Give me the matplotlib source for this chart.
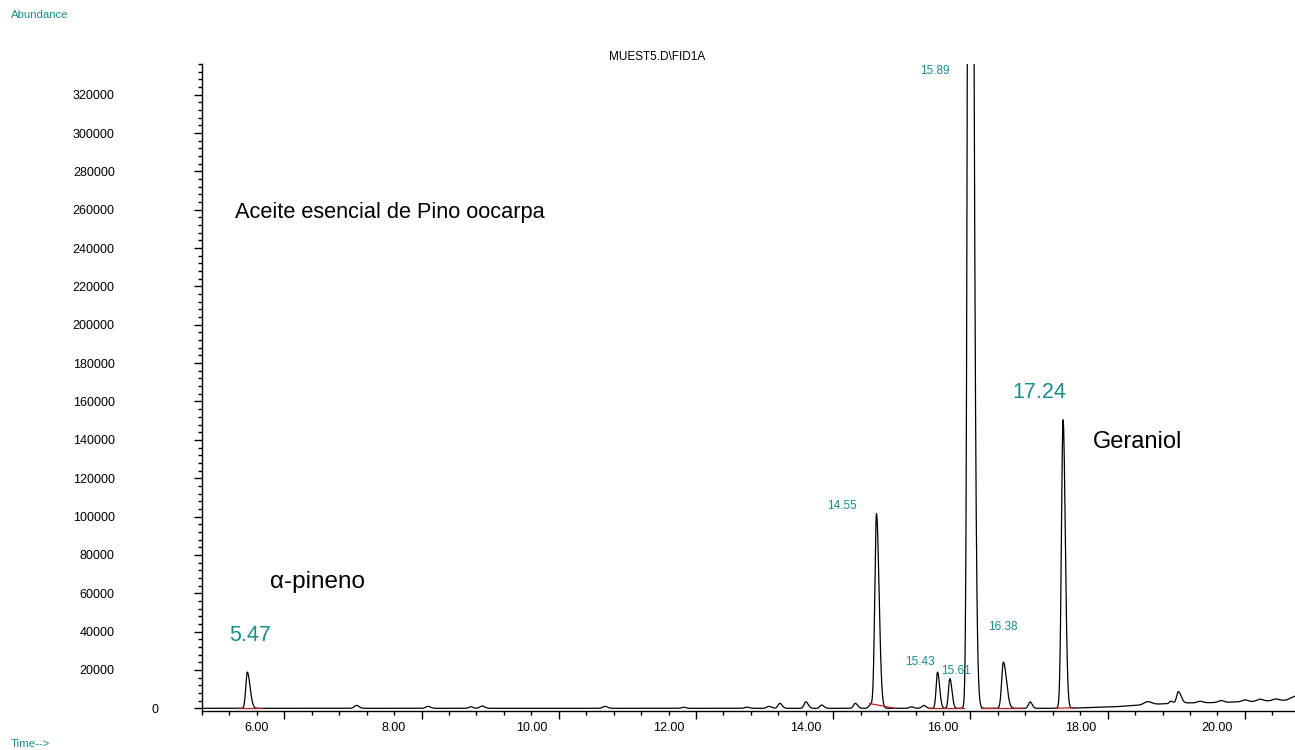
import numpy as np
import matplotlib
matplotlib.use("Agg")
import matplotlib.pyplot as plt
from matplotlib.transforms import ScaledTranslation

plt.rcParams['font.family'] = ['Liberation Sans', 'DejaVu Sans']

# Peaks: apex time (min), height, left/right width (min)
peak_times = [5.86, 7.45, 8.49, 9.12, 9.28, 11.07, 12.22, 13.14, 13.46, 13.62,
              14.00, 14.23, 14.72, 14.95, 15.03, 15.54, 15.72, 15.92, 16.10, 16.39,
              16.88, 17.27, 17.75, 18.98, 19.32, 19.43, 19.75, 20.05, 20.40, 20.62, 20.85]
peak_heights = [18900, 1500, 1000, 800, 1200, 1000, 600, 600, 1000, 2600,
                3400, 1700, 2600, 2000, 101500, 800, 1500, 18900, 15500, 900000,
                24100, 3300, 150600, 1500, 1200, 6000, 800, 1000, 900, 1000, 800]
peak_sig_left = [0.022, 0.03, 0.03, 0.03, 0.03, 0.03, 0.03, 0.03, 0.03, 0.025,
                 0.025, 0.025, 0.025, 0.03, 0.024, 0.03, 0.03, 0.02, 0.02, 0.026,
                 0.025, 0.025, 0.024, 0.05, 0.02, 0.025, 0.04, 0.04, 0.04, 0.04, 0.04]
peak_sig_right = [0.04, 0.04, 0.04, 0.03, 0.04, 0.04, 0.03, 0.04, 0.04, 0.035,
                  0.035, 0.035, 0.035, 0.03, 0.038, 0.03, 0.03, 0.03, 0.03, 0.045,
                  0.045, 0.03, 0.032, 0.06, 0.03, 0.04, 0.04, 0.04, 0.04, 0.04, 0.04]

# Slow baseline drift at the end of the run
drift_times = [5.2, 17.8, 18.5, 19.0, 19.5, 20.0, 20.5, 21.0, 21.2]
drift_levels = [0, 0, 800, 2000, 2800, 3000, 3600, 4300, 7500]

# Integration baselines drawn in red
red_segments = [([5.72, 6.08], [0, 0]),
                ([14.93, 15.30], [2500, 0]),
                ([15.80, 16.30], [0, 0]),
                ([16.55, 17.15], [0, 0]),
                ([17.62, 17.92], [0, 300])]

# Labels
peak_labels = ['5.47', '14.55', '15.43', '15.61', '15.89', '16.38', '17.24']
label_x = [5.90, 14.52, 15.66, 16.19, 15.88, 16.87, 17.41]
label_y = [38000, 105400, 24100, 19300, 332500, 42400, 164900]
label_size = [15.5, 8.5, 8.5, 8.5, 8.5, 8.5, 15.5]

y_ticks = list(range(0, 320001, 20000))
x_label_times = [6, 8, 10, 12, 14, 16, 18, 20]
x_label_text = ['6.00', '8.00', '10.00', '12.00', '14.00', '16.00', '18.00', '20.00']

teal = '#1a8c8c'

# build the trace
t = np.linspace(5.2, 21.2, 6000)
signal = np.interp(t, drift_times, drift_levels)
for tp, h, sl, sr in zip(peak_times, peak_heights, peak_sig_left, peak_sig_right):
    s = np.where(t < tp, sl, sr)
    signal += h * np.exp(-0.5 * ((t - tp) / s) ** 2)

fig = plt.figure(figsize=(12.95, 7.5), dpi=100)
ax = fig.add_axes([202 / 1295, 39 / 750, 1 - 202 / 1295, (711 - 64) / 750])

ax.plot(t, signal, color='black', lw=0.9)
for xs, ys in red_segments:
    ax.plot(xs, ys, color='#b22222', lw=0.9)

ax.set_xlim(5.2, 21.13)
ax.set_ylim(-1400, 336000)

for sp in ['top', 'right']:
    ax.spines[sp].set_visible(False)
ax.spines['left'].set_linewidth(1.0)
ax.spines['bottom'].set_linewidth(1.0)

# x ticks: long unlabeled ticks every 2 min, short ticks every 0.4 min carry labels
ax.set_xticks(np.round(np.arange(6.4, 21.2, 2.0), 1))
ax.set_xticklabels([])
minor_x = np.round(np.arange(5.2, 21.2, 0.4), 1)
minor_lab = []
for v in minor_x:
    if v in x_label_times:
        minor_lab.append(x_label_text[x_label_times.index(v)])
    else:
        minor_lab.append('')
ax.set_xticks(minor_x, minor_lab, minor=True)
ax.tick_params(axis='x', which='major', direction='out', length=5.8, width=1.0)
ax.tick_params(axis='x', which='minor', direction='out', length=2.9, width=1.0, pad=5,
               labelsize=9)

ax.set_yticks(y_ticks)
ax.set_yticklabels([str(v) for v in y_ticks])
ax.set_yticks(np.arange(0, 336001, 4000), minor=True)
ax.tick_params(axis='y', which='major', direction='out', length=5.8, width=1.0, pad=57,
               labelsize=9)
ax.tick_params(axis='y', which='minor', direction='out', length=2.9, width=1.0)
zero_lbl = ax.get_yticklabels()[0]
zero_lbl.set_transform(zero_lbl.get_transform() + ScaledTranslation(0.44, 0, fig.dpi_scale_trans))

for txt, x, y, fs in zip(peak_labels, label_x, label_y, label_size):
    ax.text(x, y, txt, color=teal, fontsize=fs, ha='center', va='center')

ax.text(5.68, 258500, 'Aceite esencial de Pino oocarpa', fontsize=15.7, ha='left', va='center')
ax.text(6.19, 65700, 'α-pineno', fontsize=17.5, ha='left', va='center')
ax.text(18.19, 138800, 'Geraniol', fontsize=17, ha='left', va='center')

fig.text(657 / 1295, 1 - 57 / 750, 'MUEST5.D\\FID1A', fontsize=8.5, ha='center', va='center')
fig.text(11 / 1295, 1 - 15 / 750, 'Abundance', color=teal, fontsize=8.2, ha='left', va='center')
fig.text(11 / 1295, 1 - 744 / 750, 'Time-->', color=teal, fontsize=8.2, ha='left', va='center')

fig.savefig('out.png', dpi=100)
